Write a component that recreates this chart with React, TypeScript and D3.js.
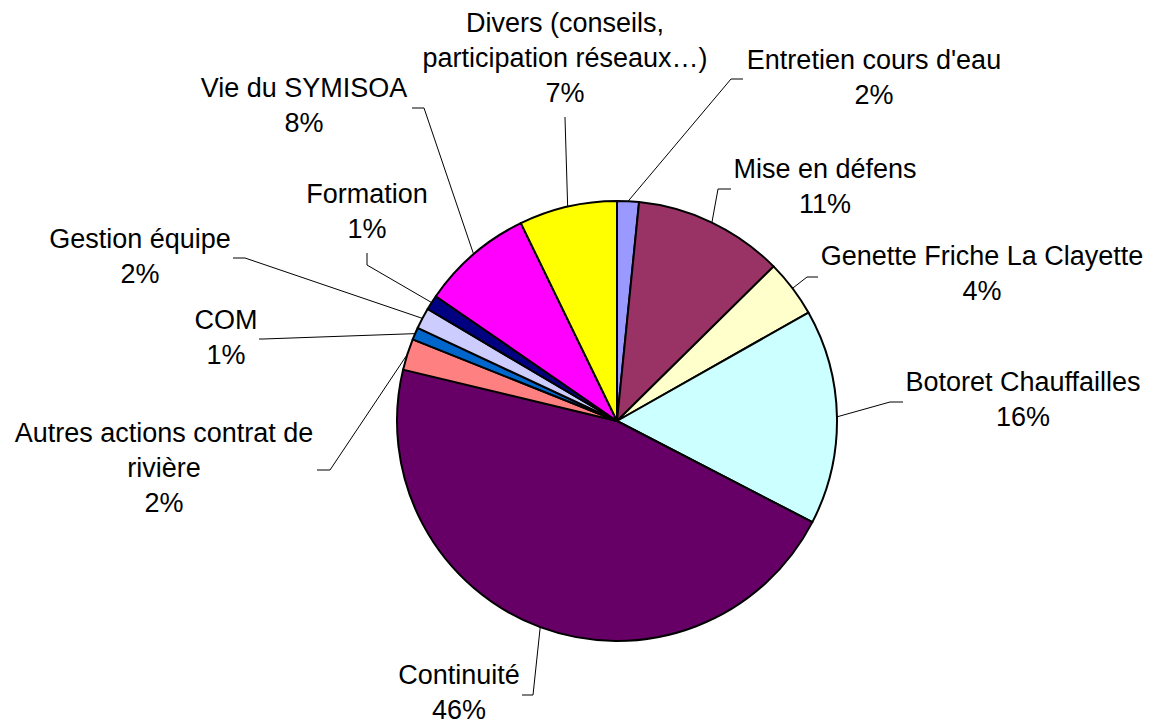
import { arc, pie, select } from 'd3';
import { useEffect, useRef } from 'react';

// slices, clockwise from 12 o'clock
const categories = [
  "Entretien cours d'eau",
  'Mise en défens',
  'Genette Friche La Clayette',
  'Botoret Chauffailles',
  'Continuité',
  'Autres actions contrat de\nrivière',
  'COM',
  'Gestion équipe',
  'Formation',
  'Vie du SYMISOA',
  'Divers (conseils,\nparticipation réseaux…)',
];

const values = [1.6, 11.0, 4.2, 15.8, 46.15, 2.3, 0.9, 1.55, 1.1, 8.2, 7.2];

const colors = [
  '#9999FF',
  '#993366',
  '#FFFFCC',
  '#CCFFFF',
  '#660066',
  '#FF8080',
  '#0066CC',
  '#CCCCFF',
  '#000080',
  '#FF00FF',
  '#FFFF00',
];

// label placement: centre x, first baseline, leader start, leader elbow
const labelPos = [
  { x: 874, y: 69, start: [743, 79], elbow: [731, 79] },
  { x: 825, y: 178, start: [731, 189], elbow: [718, 189] },
  { x: 982, y: 265, start: [818, 277], elbow: [807, 277] },
  { x: 1023, y: 391, start: [903, 402], elbow: [890, 402] },
  { x: 459, y: 684, start: [522, 695], elbow: [533, 695] },
  { x: 164, y: 442, start: [317, 470], elbow: [330, 470] },
  { x: 226, y: 329, start: [259, 339], elbow: [263, 339] },
  { x: 140, y: 248, start: [233, 258], elbow: [245, 258] },
  { x: 367, y: 203, start: [367, 253], elbow: [367, 265] },
  { x: 304, y: 97, start: [412, 108], elbow: [424, 108] },
  { x: 565, y: 32, start: [565, 117], elbow: [565, 118] },
];

const width = 1155;
const height = 724;
const cx = 617;
const cy = 421;
const radius = 220;
const lineHeight = 35;

const App = () => {
  const svgRef = useRef(null);

  useEffect(() => {
    document.body.style.margin = '0';
    const svg = select(svgRef.current);
    svg.selectAll('*').remove();

    const data = categories.map((name, i) => ({ name, value: values[i], color: colors[i] }));
    const total = values.reduce((a, b) => a + b, 0);

    const arcs = pie()
      .sort(null)
      .value((d) => d.value)(data);

    const sliceArc = arc().innerRadius(0).outerRadius(radius);

    const g = svg.append('g').attr('transform', `translate(${cx},${cy})`);

    g.selectAll('path')
      .data(arcs)
      .enter()
      .append('path')
      .attr('d', sliceArc)
      .attr('fill', (d) => d.data.color)
      .attr('stroke', '#000')
      .attr('stroke-width', 2)
      .attr('stroke-linejoin', 'round');

    // leader lines: label -> elbow -> middle of the slice on the rim
    svg
      .append('g')
      .selectAll('polyline')
      .data(arcs)
      .enter()
      .append('polyline')
      .attr('points', (d, i) => {
        const mid = (d.startAngle + d.endAngle) / 2;
        const ex = cx + radius * Math.sin(mid);
        const ey = cy - radius * Math.cos(mid);
        const p = labelPos[i];
        return `${p.start[0]},${p.start[1]} ${p.elbow[0]},${p.elbow[1]} ${ex},${ey}`;
      })
      .attr('fill', 'none')
      .attr('stroke', '#000')
      .attr('stroke-width', 1);

    const labels = svg
      .append('g')
      .attr('font-family', '"Liberation Sans", Arial, sans-serif')
      .attr('font-size', 27)
      .attr('fill', '#000')
      .attr('text-anchor', 'middle')
      .selectAll('text')
      .data(arcs)
      .enter()
      .append('text')
      .attr('x', (d, i) => labelPos[i].x)
      .attr('y', (d, i) => labelPos[i].y);

    labels.each(function (d, i) {
      const lines = d.data.name.split('\n').concat(`${Math.round((d.data.value / total) * 100)}%`);
      select(this)
        .selectAll('tspan')
        .data(lines)
        .enter()
        .append('tspan')
        .attr('x', labelPos[i].x)
        .attr('dy', (l, j) => (j === 0 ? 0 : lineHeight))
        .text((l) => l);
    });
  }, []);

  return (
    <svg
      ref={svgRef}
      width={width}
      height={height}
      style={{ display: 'block', background: '#fff' }}
    />
  );
};

export default App;
